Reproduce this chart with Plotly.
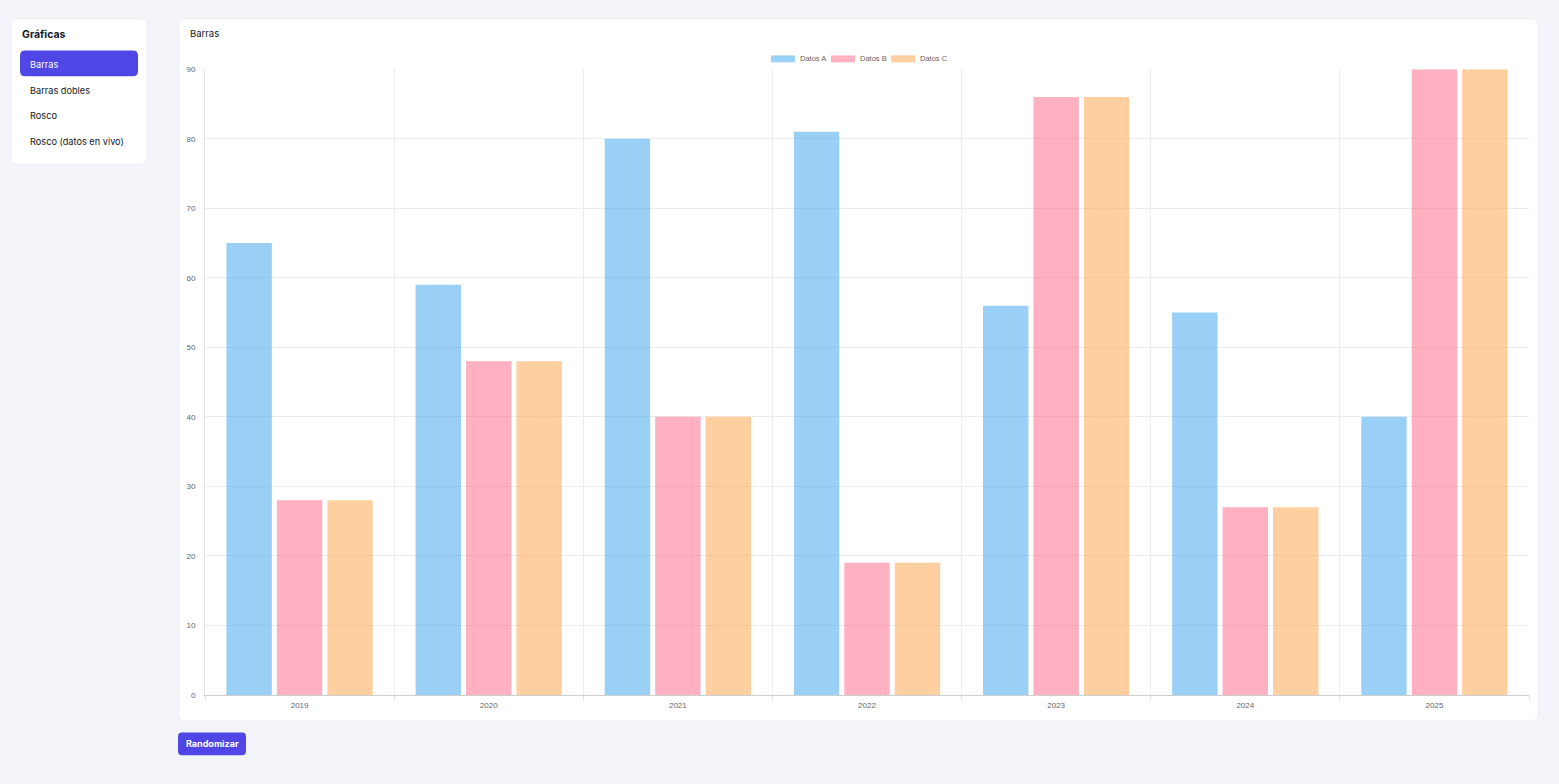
import plotly.graph_objects as go

W, H = 1559, 784

years = ["2019", "2020", "2021", "2022", "2023", "2024", "2025"]
datos_a = [65, 59, 80, 81, 56, 55, 40]
datos_b = [28, 48, 40, 19, 86, 27, 90]
datos_c = [28, 48, 40, 19, 86, 27, 90]

series_names = ["Datos A", "Datos B", "Datos C"]
series_colors = ["rgba(54,162,235,0.5)", "rgba(255,99,132,0.5)", "rgba(255,159,64,0.5)"]

menu_items = ["Barras", "Barras dobles", "Rosco", "Rosco (datos en vivo)"]

page_bg = "#f3f5fa"
indigo = "#4f46e5"


def px(x):
    return x / W


def py(y):
    return 1 - y / H


def round_rect(x0, y0, x1, y1, r, fill, line="rgba(0,0,0,0)"):
    # rounded rectangle in pixel coords, converted to paper
    rx, ry = r / W, r / H
    a, b, c, d = px(x0), px(x1), py(y0), py(y1)
    path = (f"M {a+rx},{c} L {b-rx},{c} Q {b},{c} {b},{c-ry} "
            f"L {b},{d+ry} Q {b},{d} {b-rx},{d} L {a+rx},{d} "
            f"Q {a},{d} {a},{d+ry} L {a},{c-ry} Q {a},{c} {a+rx},{c} Z")
    return dict(type="path", xref="paper", yref="paper", path=path,
                fillcolor=fill, line=dict(color=line, width=1), layer="below")


fig = go.Figure()
for name, vals, col in zip(series_names, [datos_a, datos_b, datos_c], series_colors):
    fig.add_trace(go.Bar(x=years, y=vals, name=name, marker=dict(color=col, line=dict(width=0)),
                         hoverinfo="x+y+name"))

shapes = [
    round_rect(11, 15, 147, 162, 7, "white", "rgba(0,0,0,0.04)"),
    round_rect(179, 15, 1538, 725, 7, "white", "rgba(0,0,0,0.04)"),
    round_rect(20, 47, 138, 73, 5, indigo),
    round_rect(178, 737, 246, 760, 4, indigo),
]

annotations = [
    dict(x=px(20), y=py(31), text="<b>Gráficas</b>", font=dict(size=10.5, color="#111827")),
    dict(x=px(188), y=py(30), text="Barras", font=dict(size=9.5, color="#111827")),
    dict(x=px(212), y=py(748.5), text="<b>Randomizar</b>", xanchor="center",
         font=dict(size=9, color="white")),
]
for i, item in enumerate(menu_items):
    annotations.append(dict(x=px(28), y=py(61 + 26 * i), text=item,
                            font=dict(size=9.2, color="white" if i == 0 else "#111827")))

# legend drawn like the chart library's one: wide boxes + labels
leg_x = [771, 831, 891]
for name, col, lx in zip(series_names, series_colors, leg_x):
    shapes.append(dict(type="rect", xref="paper", yref="paper",
                       x0=px(lx), x1=px(lx + 24), y0=py(52), y1=py(59),
                       fillcolor=col, line=dict(width=0)))
    annotations.append(dict(x=px(lx + 27), y=py(55.5), text=name,
                            font=dict(size=7.5, color="#666666",
                                      family="Liberation Sans, Arial, sans-serif")))

for a in annotations:
    a.update(xref="paper", yref="paper", showarrow=False)
    a.setdefault("xanchor", "left")
    a.setdefault("yanchor", "middle")
    a["font"].setdefault("family", "Inter, Noto Sans, sans-serif")

fig.update_layout(
    width=W, height=H,
    margin=dict(l=0, r=0, t=0, b=0),
    paper_bgcolor=page_bg,
    plot_bgcolor="white",
    barmode="group",
    bargap=0.2,
    bargroupgap=0.1,
    showlegend=False,
    shapes=shapes,
    annotations=annotations,
    font=dict(family="Liberation Sans, Arial, sans-serif", size=8, color="#666666"),
    xaxis=dict(
        domain=[px(205), px(1529)],
        type="category",
        tickson="boundaries",
        ticks="outside", ticklen=5, tickcolor="#e6e6e6",
        ticklabelstandoff=2,
        showgrid=True, gridcolor="#ededed", gridwidth=1,
        showline=True, linecolor="#cfcfcf", linewidth=1,
        zeroline=False,
        tickfont=dict(size=8, color="#666666"),
        fixedrange=True,
    ),
    yaxis=dict(
        domain=[py(699), py(66)],
        range=[0, 90],
        tick0=0, dtick=10,
        showgrid=True, gridcolor="#ededed", gridwidth=1,
        showline=True, linecolor="#e3e3e3", linewidth=1,
        zeroline=False,
        ticks="", ticklabelstandoff=7,
        tickfont=dict(size=8, color="#666666"),
        fixedrange=True,
    ),
)

page_css = ("document.documentElement.style.margin='0';"
            "document.documentElement.style.overflow='hidden';"
            "document.body.style.margin='0';"
            "document.body.style.overflow='hidden';"
            "document.body.style.background='%s';" % page_bg)
fig.write_html("out.html", config={"displayModeBar": False}, post_script=page_css)
